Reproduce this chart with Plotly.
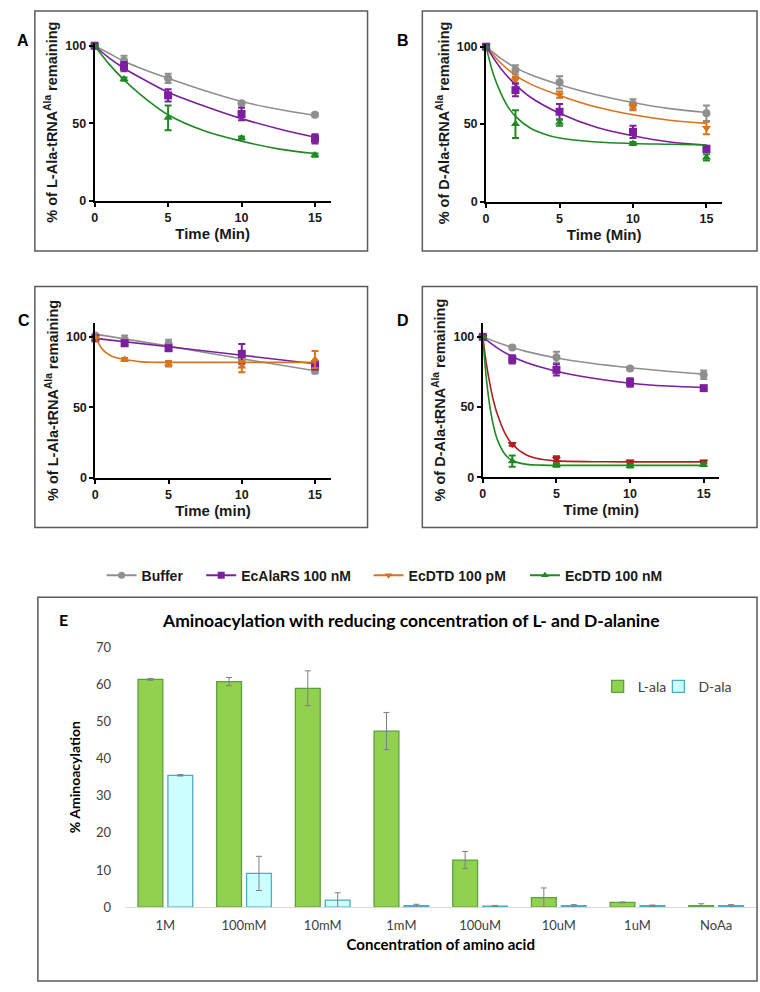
import plotly.graph_objects as go

W, H = 760, 992
ARIAL = "Liberation Sans, Arial, sans-serif"
CAL = "Lato, Open Sans, sans-serif"


def fx(p):
    return p / W


def fy(p):
    return 1 - p / H


# ---------------- data: kinetics panels ----------------
time_min = [0, 2, 5, 10, 15]
fit_t = [0, 1, 2, 3, 5, 7.5, 10, 12.5, 15]
fit_t_fast = [0, 0.5, 1, 1.5, 2, 3, 4, 5, 7.5, 10, 12.5, 15]
fit_t_vfast = [0, 0.25, 0.5, 0.75, 1, 1.5, 2, 3, 4, 5, 7.5, 10, 15]
fit_t_lin = [0, 5, 10, 15]

# Panel A: L-Ala-tRNA(Ala)
A_buffer = [100, 90.5, 79, 63, 55.5]
A_buffer_err = [0, 3, 3, 1, 1]
A_buffer_fit = [100, 95, 90, 86, 79, 71, 64, 59, 55]
A_alars = [100, 86.5, 68, 56, 40]
A_alars_err = [0, 3, 4, 4, 3]
A_alars_fit = [100, 92, 85.5, 80, 70, 61, 53, 46.5, 41]
A_nM = [100, 78.5, 53.5, 40.5, 29.5]
A_nM_err = [0, 1, 8, 1, 1]
A_nM_fit = [100, 88, 78, 69.5, 55.5, 45, 38.5, 33.5, 30.5]

# Panel B: D-Ala-tRNA(Ala)
B_buffer = [100, 85, 77, 63, 57]
B_buffer_err = [0, 3, 4, 3, 5]
B_buffer_fit = [100, 92.5, 86.5, 82, 75.5, 69, 64, 60, 57.5]
B_pM = [100, 78.5, 69, 61, 47.5]
B_pM_err = [0, 2, 2, 2, 4]
B_pM_fit = [100, 89.5, 81.5, 76, 68.5, 61, 56, 52.5, 50.5]
B_alars = [100, 72, 58, 45, 34]
B_alars_err = [0, 4, 5, 4, 2]
B_alars_fit = [100, 86, 75.5, 67.5, 57, 48, 42.5, 38.5, 36.5]
B_nM = [100, 50, 51, 37.5, 28.5]
B_nM_err = [0, 9, 2, 1, 2]
B_nM_fit = [100, 82, 70, 61, 55, 47.5, 43.5, 41, 38.5, 37.5, 37, 36.5]

# Panel C: L-Ala-tRNA(Ala)
C_buffer = [101, 98, 95, 84, 76]
C_buffer_err = [0, 3, 3, 2, 2]
C_buffer_fit = [102, 93.5, 84.5, 76]
C_alars = [99, 95.5, 92, 88, 80]
C_alars_err = [0, 2, 2, 7, 3]
C_alars_fit = [99, 93, 87, 81]
C_pM = [100, 84, 81, 79, 84]
C_pM_err = [0, 1, 2, 4, 6]
C_pM_fit = [100, 91, 87, 85, 84, 82.5, 82, 82, 82, 82, 82, 82]

# Panel D: D-Ala-tRNA(Ala)
D_buffer = [100, 92.5, 85.5, 77.5, 73]
D_buffer_err = [0, 1, 4, 1, 3]
D_buffer_fit = [100, 96, 92.5, 89.5, 85, 81, 78, 75.5, 73.5]
D_alars = [100, 84, 76.5, 67.5, 63.5]
D_alars_err = [0, 3, 4, 3, 1]
D_alars_fit = [100, 92, 86, 81.5, 75.5, 70.5, 67, 65, 64]
D_pM = [100, 23.5, 13, 11, 11]
D_pM_err = [0, 1, 2, 1, 1]
D_pM_fit = [100, 80.5, 65.5, 53.5, 44.5, 31.5, 23.5, 15.7, 12.8, 11.7, 11.1, 11, 11]
D_nM = [100, 11.5, 8.5, 8, 9]
D_nM_err = [0, 4, 1, 1, 1]
D_nM_fit = [100, 69.5, 49, 35.5, 26.5, 16.5, 12, 9.2, 8.7, 8.5, 8.5, 8.5, 8.5]

# ---------------- data: panel E ----------------
conc_labels = ["1M", "100mM", "10mM", "1mM", "100uM", "10uM", "1uM", "NoAa"]
L_ala = [61.3, 60.7, 58.9, 47.4, 12.7, 2.6, 1.3, 0.45]
L_ala_err = [0.25, 1.1, 4.7, 5.0, 2.3, 2.6, 0.1, 0.5]
D_ala = [35.5, 9.1, 1.9, 0.4, 0.3, 0.4, 0.4, 0.4]
D_ala_err = [0.2, 4.6, 2.0, 0.4, 0.2, 0.3, 0.2, 0.3]

legend_names = ["Buffer", "EcAlaRS 100 nM", "EcDTD 100 pM", "EcDTD 100 nM"]
bar_names = ["L-ala", "D-ala"]

# ---------------- styles ----------------
GRAY = "#8f8f8f"
PURPLE = "#7b1f9e"
ORANGE = "#d8731e"
GREEN = "#1f8a24"
RED = "#b01e1e"
MS = 8

fig = go.Figure()


def add_series(xa, ya, y, err, ft, fyv, color, symbol):
    fig.add_trace(go.Scatter(
        x=ft, y=fyv, mode="lines", line=dict(color=color, width=1.6, shape="spline"),
        xaxis=xa, yaxis=ya, showlegend=False, hoverinfo="skip", cliponaxis=False))
    fig.add_trace(go.Scatter(
        x=time_min, y=y, mode="markers",
        marker=dict(color=color, symbol=symbol, size=MS, line=dict(width=0)),
        error_y=dict(type="data", array=err, color=color, thickness=2, width=3.5),
        xaxis=xa, yaxis=ya, showlegend=False, cliponaxis=False))


# A
add_series("x", "y", A_buffer, A_buffer_err, fit_t, A_buffer_fit, GRAY, "circle")
add_series("x", "y", A_alars, A_alars_err, fit_t, A_alars_fit, PURPLE, "square")
add_series("x", "y", A_nM, A_nM_err, fit_t, A_nM_fit, GREEN, "triangle-up")
# B
add_series("x2", "y2", B_buffer, B_buffer_err, fit_t, B_buffer_fit, GRAY, "circle")
add_series("x2", "y2", B_pM, B_pM_err, fit_t, B_pM_fit, ORANGE, "triangle-down")
add_series("x2", "y2", B_alars, B_alars_err, fit_t, B_alars_fit, PURPLE, "square")
add_series("x2", "y2", B_nM, B_nM_err, fit_t_fast, B_nM_fit, GREEN, "triangle-up")
# C
add_series("x3", "y3", C_buffer, C_buffer_err, fit_t_lin, C_buffer_fit, GRAY, "circle")
add_series("x3", "y3", C_alars, C_alars_err, fit_t_lin, C_alars_fit, PURPLE, "square")
add_series("x3", "y3", C_pM, C_pM_err, fit_t_fast, C_pM_fit, ORANGE, "triangle-up")
# D
add_series("x4", "y4", D_buffer, D_buffer_err, fit_t, D_buffer_fit, GRAY, "circle")
add_series("x4", "y4", D_alars, D_alars_err, fit_t, D_alars_fit, PURPLE, "square")
add_series("x4", "y4", D_pM, D_pM_err, fit_t_vfast, D_pM_fit, RED, "triangle-down")
add_series("x4", "y4", D_nM, D_nM_err, fit_t_vfast, D_nM_fit, GREEN, "triangle-up")

# legend entries for kinetics (one legend each, for exact placement)
leg_styles = [(GRAY, "circle"), (PURPLE, "square"), (ORANGE, "triangle-down"), (GREEN, "triangle-up")]
leg_x = [99, 199, 367, 524]
layout_legends = {}
for i, (name, (color, sym), lx) in enumerate(zip(legend_names, leg_styles, leg_x)):
    lid = "legend" if i == 0 else "legend%d" % (i + 1)
    fig.add_trace(go.Scatter(
        x=[None], y=[None], mode="lines+markers", name=name,
        line=dict(color=color, width=2), marker=dict(color=color, symbol=sym, size=7),
        xaxis="x", yaxis="y", legend=lid))
    layout_legends[lid] = dict(orientation="h", x=fx(lx), y=fy(577), xanchor="left", yanchor="middle",
                               font=dict(family=ARIAL, size=14, color="#1a1a1a", weight="bold"),
                               bgcolor="rgba(0,0,0,0)", itemwidth=30)

# Panel E bars
bar_styles = [("#92d050", "#5aa33a"), ("#ccffff", "#4bacc6")]
bar_vals = [(L_ala, L_ala_err), (D_ala, D_ala_err)]
bar_leg_x = [597, 658]
for j, (name, (fc, lc), (vals, errs), lx) in enumerate(zip(bar_names, bar_styles, bar_vals, bar_leg_x)):
    lid = "legend%d" % (5 + j)
    fig.add_trace(go.Bar(
        x=conc_labels, y=vals, name=name, xaxis="x5", yaxis="y5",
        marker=dict(color=fc, line=dict(color=lc, width=1.3)),
        error_y=dict(type="data", array=errs, color="#7f7f7f", thickness=1, width=3),
        legend=lid))
    layout_legends[lid] = dict(orientation="h", x=fx(lx), y=fy(690), xanchor="left", yanchor="middle",
                               font=dict(family=CAL, size=14, color="#404040"),
                               bgcolor="rgba(0,0,0,0)", itemwidth=30)

tickfont_k = dict(family=ARIAL, size=12.5, color="#1a1a1a", weight="bold")
title_font_k = dict(family=ARIAL, size=14.5, color="#1a1a1a", weight="bold")


def kin_x(domain, anchor, title):
    return dict(domain=domain, anchor=anchor, range=[0, 16.07], tickvals=[0, 5, 10, 15],
                showline=True, linecolor="black", linewidth=2, ticks="outside", ticklen=4,
                tickwidth=2, tickcolor="black", showgrid=False, zeroline=False,
                tickfont=tickfont_k,
                title=dict(text=title, font=dict(family=ARIAL, size=15, color="#1a1a1a", weight="bold"),
                           standoff=4))


def kin_y(domain, anchor, rng, title):
    return dict(domain=domain, anchor=anchor, range=rng, tickvals=[0, 50, 100],
                showline=True, linecolor="black", linewidth=2, ticks="outside", ticklen=4,
                tickwidth=2, tickcolor="black", showgrid=False, zeroline=False,
                tickfont=tickfont_k,
                title=dict(text=title, font=title_font_k, standoff=4))


L_title = "% of L-Ala-tRNA<sup>Ala</sup> remaining"
D_title = "% of D-Ala-tRNA<sup>Ala</sup> remaining"

fig.update_layout(
    width=W, height=H, margin=dict(l=0, r=0, t=0, b=0),
    paper_bgcolor="white", plot_bgcolor="rgba(0,0,0,0)",
    bargap=0.24, bargroupgap=0.17,
    xaxis=kin_x([fx(92), fx(329)], "y", "Time (Min)"),
    yaxis=kin_y([fy(196), fy(36)], "x", [0, 101.5], L_title),
    xaxis2=kin_x([fx(485), fx(722)], "y2", "Time (Min)"),
    yaxis2=kin_y([fy(196.7), fy(37)], "x2", [0, 101.5], D_title),
    xaxis3=kin_x([fx(92.7), fx(329)], "y3", "Time (min)"),
    yaxis3=kin_y([fy(477.7), fy(320)], "x3", [0, 110], L_title),
    xaxis4=kin_x([fx(481.7), fx(719.3)], "y4", "Time (min)"),
    yaxis4=kin_y([fy(477), fy(320)], "x4", [0, 110], D_title),
    xaxis5=dict(domain=[fx(123.5), fx(755.5)], anchor="y5", type="category",
                showline=True, linecolor="#d9d9d9", linewidth=1, ticks="", showgrid=False,
                ticklabelstandoff=6,
                tickfont=dict(family=CAL, size=13, color="#404040"),
                title=dict(text="Concentration of amino acid",
                           font=dict(family=CAL, size=15, color="black", weight="bold"), standoff=7)),
    yaxis5=dict(domain=[fy(914), fy(649.5)], anchor="x5", range=[0, 70], dtick=10,
                showline=False, showgrid=False, zeroline=False, ticks="",
                ticklabelstandoff=14,
                tickfont=dict(family=CAL, size=13, color="#404040"),
                title=dict(text="% Aminoacylation",
                           font=dict(family=CAL, size=14, color="black", weight="bold"), standoff=12)),
    showlegend=True,
    **layout_legends,
)

# panel boxes
boxes = [(32, 3, 366, 247), (421, 3, 757, 247), (32, 283, 366, 528), (421, 283, 757, 528),
         (35, 599, 757, 989)]
for (x0, y0, x1, y1) in boxes:
    fig.add_shape(type="rect", xref="paper", yref="paper", x0=fx(x0), x1=fx(x1), y0=fy(y1), y1=fy(y0),
                  line=dict(color="#5a5a5a", width=1.5), fillcolor="rgba(0,0,0,0)", layer="below")

letters = [("A", 12, 22), ("B", 402, 22), ("C", 13, 307), ("D", 402, 307)]
for t, x, y in letters:
    fig.add_annotation(text=t, x=fx(x), y=fy(y), xref="paper", yref="paper", showarrow=False,
                       font=dict(family=ARIAL, size=16, color="black", weight="bold"))
fig.add_annotation(text="E", x=fx(54), y=fy(622), xref="paper", yref="paper", showarrow=False,
                   font=dict(family=CAL, size=16, color="black", weight="bold"))
fig.add_annotation(text="Aminoacylation with reducing concentration of L- and D-alanine",
                   x=fx(410), y=fy(623), xref="paper", yref="paper", showarrow=False,
                   font=dict(family=CAL, size=17.5, color="black", weight="bold"))

fig.write_html("out.html", config={"displayModeBar": False},
               post_script="document.body.style.margin='0px';document.body.style.overflow='hidden';")
